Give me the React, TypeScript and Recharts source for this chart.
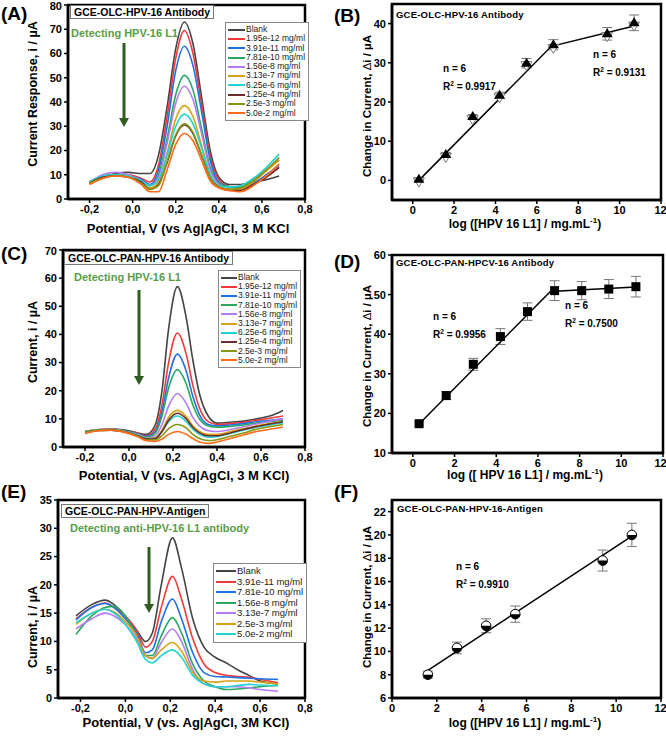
import React from 'react';
import {
  LineChart,
  Line,
  ScatterChart,
  Scatter,
  ErrorBar,
  XAxis,
  YAxis,
  ReferenceArea,
} from 'recharts';

const FONT = '"Liberation Sans", Arial, Helvetica, sans-serif';

// ---- (A) GCE-OLC-HPV-16 Antibody, DPV ----
const potentialA = [-0.2, -0.14, -0.08, -0.02, 0.04, 0.08, 0.12, 0.16, 0.2, 0.24, 0.28, 0.32, 0.36, 0.4, 0.45, 0.5, 0.56, 0.62, 0.68];
const labelsA = ['Blank', '1.95e-12 mg/ml', '3.91e-11 mg/ml', '7.81e-10 mg/ml', '1.56e-8 mg/ml', '3.13e-7 mg/ml', '6.25e-6 mg/ml', '1.25e-4 mg/ml', '2.5e-3 mg/ml', '5.0e-2 mg/ml'];
const currentsA = [
  [7, 9, 10.5, 11, 10.5, 10.5, 18, 38, 62, 73, 64, 42, 20, 9, 6, 6, 7, 8, 9.5],
  [6.5, 9, 10, 10, 8.5, 7, 14, 34, 58, 69.5, 60, 39, 18, 8, 5, 4.5, 6, 9, 13],
  [6.5, 9, 10, 9.5, 8, 6, 12, 30, 53, 63, 55, 36, 16, 7, 5, 4.5, 6.5, 10, 14],
  [7, 9.5, 10, 9.5, 7.5, 5.5, 10, 25, 43, 51, 45, 29, 13, 6.5, 5, 5, 8, 12, 16],
  [7, 10, 11, 10, 7.5, 5.5, 9, 23, 39.5, 46.5, 41, 27, 12, 6, 4, 4, 7.5, 12, 17],
  [6.5, 9, 10, 9.5, 7, 4.5, 7, 19, 33, 38.5, 34, 22, 10, 5, 4, 4, 7, 11.5, 16],
  [7, 9.5, 10, 9.5, 7.5, 5.5, 8, 18, 30, 35, 31, 21, 10, 5.5, 5, 5.5, 8.5, 13, 18.5],
  [6.5, 9, 9.5, 9, 7, 4, 6, 15, 26, 30.5, 27, 18, 8.5, 5, 3.5, 3.5, 6, 9, 13],
  [6.5, 8.5, 9.5, 9, 6.5, 4, 5.5, 15.5, 26.5, 31, 27.5, 18, 8.5, 5, 4, 4.5, 7.5, 12, 17],
  [6, 8.5, 9.5, 9, 6, 3, 3, 12, 22.5, 27, 24, 16, 7.5, 4.5, 3.5, 3, 5.5, 9.5, 14.5],
];
const yTicksA = [0, 10, 20, 30, 40, 50, 60, 70, 80];

// ---- (C) GCE-OLC-PAN-HPV-16 Antibody, DPV ----
const potentialC = [-0.2, -0.14, -0.08, -0.02, 0.04, 0.08, 0.12, 0.15, 0.18, 0.22, 0.26, 0.29, 0.32, 0.36, 0.4, 0.46, 0.52, 0.58, 0.64, 0.7];
const labelsC = labelsA;
const currentsC = [
  [5.5, 6.2, 6.4, 6, 5, 4.5, 8, 20, 42, 57, 46, 31, 19, 11, 8.5, 8.8, 9.2, 10, 11, 13],
  [5.5, 6.1, 6.3, 5.8, 4.8, 4, 6.5, 15, 30, 40.5, 33, 22, 14, 9, 8, 8.3, 8.8, 9.5, 10.2, 11],
  [5.5, 6, 6.2, 5.7, 4.6, 3.8, 5.5, 12.5, 24.5, 33, 27, 18, 11.5, 8, 7.5, 7.8, 8.3, 9, 9.5, 10],
  [5.5, 6, 6.2, 5.7, 4.5, 3.5, 5, 11, 21, 27.5, 22.5, 15, 10, 7.5, 7, 7.3, 7.8, 8.5, 9, 9.5],
  [5.5, 6, 6.2, 5.6, 4.4, 3.3, 4, 8, 14.5, 19, 15.5, 10.5, 7.5, 5.8, 5.5, 6.2, 7.2, 8.2, 9.2, 10],
  [5.5, 6, 6.2, 5.5, 4.2, 3, 3.3, 6, 10.5, 13, 10.8, 7.5, 5.5, 4.5, 4.5, 5.5, 6.5, 7.5, 8.3, 9],
  [5.5, 6, 6.1, 5.5, 4.2, 3, 3, 5.5, 9, 11, 9, 6.3, 4.5, 3.5, 3.7, 4.8, 6, 7, 7.8, 8.5],
  [5.3, 5.9, 6, 5.4, 4, 2.8, 3, 5.5, 9.5, 12, 10, 7, 5, 4, 4, 5, 6.2, 7.3, 8.2, 9],
  [5.2, 5.9, 6, 5.3, 3.8, 2.5, 2.5, 4, 6.5, 8, 6.8, 4.5, 3, 2.3, 2.6, 3.8, 5, 6.3, 7.2, 8],
  [4.8, 5.8, 6, 5.2, 3.6, 2.2, 2, 2.8, 4.5, 5.5, 4.5, 3, 1.8, 1.3, 1.8, 3, 4.3, 5.5, 6.3, 7],
];
const yTicksC = [0, 10, 20, 30, 40, 50, 60, 70];

// ---- (E) GCE-OLC-PAN-HPV-Antigen, DPV ----
const potentialE = [-0.22, -0.15, -0.09, -0.05, 0, 0.05, 0.09, 0.12, 0.16, 0.21, 0.25, 0.3, 0.35, 0.4, 0.45, 0.5, 0.55, 0.6, 0.68];
const labelsE = ['Blank', '3.91e-11 mg/ml', '7.81e-10 mg/ml', '1.56e-8 mg/ml', '3.13e-7 mg/ml', '2.5e-3 mg/ml', '5.0e-2 mg/ml'];
const currentsE = [
  [14.5, 16.5, 17.3, 16.5, 14.5, 12, 10, 11.5, 20, 28.3, 23, 14, 9, 7.2, 6.2, 5, 4, 3, 2.5],
  [14, 16, 16.8, 16, 14.5, 12, 9, 10, 16, 21.5, 17.5, 10.5, 6, 4.5, 4, 3.8, 3.7, 3.3, 2.7],
  [13.8, 16, 16.7, 16, 14, 11.5, 8, 8.5, 13.5, 17.5, 14, 8, 4.5, 3.8, 3.7, 3.6, 3.5, 3.4, 3.3],
  [11.2, 14.5, 16, 16.2, 14.5, 11, 7.5, 7.5, 11, 14.2, 11.5, 6, 3, 2, 1.5, 1.6, 1.8, 2, 2.2],
  [12.2, 14, 15, 14.5, 13, 10.5, 7.5, 7, 9.8, 12.2, 10, 5, 2.5, 2, 2, 2, 1.8, 1.5, 1.2],
  [13, 15, 15.7, 15.2, 13.5, 11, 7.5, 7, 8.5, 9.8, 8.3, 4.5, 3, 2.8, 3, 3, 3, 2.8, 2.5],
  [13.3, 15, 15.7, 15, 13, 10, 6.8, 6.2, 7.5, 8.5, 7.2, 4, 2.5, 2, 2, 2.2, 2.4, 2.3, 2.2],
];
const yTicksE = [0, 5, 10, 15, 20, 25, 30, 35];

const potentialTicks = [-0.2, 0, 0.2, 0.4, 0.6, 0.8];

// ---- (B) calibration, GCE-OLC-HPV-16 Antibody ----
const logConcB = [0.3, 1.6, 2.9, 4.2, 5.5, 6.8, 9.4, 10.7];
const deltaB = [0.3, 6.6, 16.3, 21.7, 29.9, 34.6, 37.4, 40.2];
const deltaB2 = [-0.3, 6.0, 15.6, 21.2, 29.4, 33.8, 36.8, 39.5];
const errB = [0.4, 0.5, 0.5, 0.8, 1.2, 1.3, 1.6, 2.0];
const fitXB = [0.3, 6.7, 10.7];
const fitYB = [0, 34.2, 39.4];

// ---- (D) calibration, GCE-OLC-PAN-HPCV-16 Antibody ----
const logConcD = [0.3, 1.6, 2.9, 4.2, 5.5, 6.8, 8.1, 9.4, 10.7];
const deltaD = [17.4, 24.5, 32.4, 39.4, 45.7, 51.0, 51.0, 51.4, 52.0];
const errD = [0.5, 1.0, 1.5, 2.0, 2.2, 2.5, 2.3, 2.4, 2.6];
const fitXD = [0.3, 6.6, 10.7];
const fitYD = [17.3, 50.8, 51.9];

// ---- (F) calibration, GCE-OLC-PAN-HPV-16-Antigen ----
const logConcF = [1.6, 2.9, 4.2, 5.5, 9.4, 10.7];
const deltaF = [8.0, 10.3, 12.2, 13.2, 17.8, 20.0];
const errF = [0.3, 0.5, 0.6, 0.7, 0.9, 1.0];
const fitXF = [1.6, 10.7];
const fitYF = [8.37, 19.9];

const logTicks = [0, 2, 4, 6, 8, 10, 12];

const curveColors = ['#444444', '#f23a3a', '#1f6fe6', '#27a85e', '#b47cf0', '#d6a214', '#22d3d3', '#6e2e2e', '#859613', '#ff6b1a'];
const curveColorsE = ['#444444', '#f23a3a', '#1f6fe6', '#27a85e', '#b47cf0', '#d6a214', '#22d3d3'];

const tickStyle = { fill: '#000', fontSize: 11, fontWeight: 700, fontFamily: FONT };
const axisLine = { stroke: '#000', strokeWidth: 2.5 };
const tickLine = { stroke: '#000', strokeWidth: 1.5 };

const comma = (v: number) => (v === 0 ? '0,0' : v.toFixed(1).replace('.', ','));

type DpvProps = {
  left: number;
  top: number;
  height: number;
  margin: { top: number; right: number; bottom: number; left: number };
  potentials: number[];
  currents: number[][];
  colors: string[];
  yMax: number;
  yTicks: number[];
};

function DpvChart({ left, top, height, margin, potentials, currents, colors, yMax, yTicks }: DpvProps) {
  const rows = potentials.map((v, i) => {
    const row: Record<string, number> = { v };
    currents.forEach((c, k) => (row['s' + k] = c[i]));
    return row;
  });
  return (
    <div style={{ position: 'absolute', left, top }}>
      <LineChart width={333} height={height} data={rows} margin={margin}>
        <XAxis
          type="number"
          dataKey="v"
          domain={[-0.3, 0.8]}
          ticks={potentialTicks}
          tickFormatter={comma}
          tick={tickStyle}
          axisLine={axisLine}
          tickLine={tickLine}
          tickSize={4}
          height={20}
        />
        <YAxis
          type="number"
          domain={[0, yMax]}
          ticks={yTicks}
          tick={tickStyle}
          axisLine={axisLine}
          tickLine={tickLine}
          tickSize={4}
          width={40}
        />
        <ReferenceArea x1={-0.3} x2={0.8} y1={0} y2={yMax} fill="none" stroke="#000" strokeWidth={2.5} />
        {currents.map((_, k) => (
          <Line
            key={k}
            type="monotone"
            dataKey={'s' + k}
            stroke={colors[k]}
            strokeWidth={1.6}
            dot={false}
            isAnimationActive={false}
          />
        ))}
      </LineChart>
    </div>
  );
}

type CalProps = {
  left: number;
  top: number;
  height: number;
  margin: { top: number; right: number; bottom: number; left: number };
  xDomain: [number, number];
  yDomain: [number, number];
  yTicks: number[];
  children: React.ReactNode;
};

function CalChart({ left, top, height, margin, xDomain, yDomain, yTicks, children }: CalProps) {
  return (
    <div style={{ position: 'absolute', left, top }}>
      <ScatterChart width={333} height={height} margin={margin}>
        <XAxis
          type="number"
          dataKey="x"
          domain={xDomain}
          ticks={logTicks}
          tick={tickStyle}
          axisLine={axisLine}
          tickLine={tickLine}
          tickSize={4}
          height={20}
          allowDataOverflow
        />
        <YAxis
          type="number"
          dataKey="y"
          domain={yDomain}
          ticks={yTicks}
          tick={tickStyle}
          axisLine={axisLine}
          tickLine={tickLine}
          tickSize={4}
          width={30}
          allowDataOverflow
        />
        <ReferenceArea x1={xDomain[0]} x2={xDomain[1]} y1={yDomain[0]} y2={yDomain[1]} fill="none" stroke="#000" strokeWidth={2.5} />
        {children}
      </ScatterChart>
    </div>
  );
}

const pts = (xs: number[], ys: number[], es?: number[]) => xs.map((x, i) => ({ x, y: ys[i], e: es ? es[i] : 0 }));

const noShape = () => <g />;
const upTri = (p: any) => (
  <path d={`M${p.cx},${p.cy - 5.5} L${p.cx + 5.5},${p.cy + 3.5} L${p.cx - 5.5},${p.cy + 3.5} Z`} fill="#000" />
);
const downTri = (p: any) => (
  <path d={`M${p.cx - 5.5},${p.cy - 3.5} L${p.cx + 5.5},${p.cy - 3.5} L${p.cx},${p.cy + 5.5} Z`} fill="#fff" stroke="#777" strokeWidth={1} />
);
const square = (p: any) => <rect x={p.cx - 4.5} y={p.cy - 4.5} width={9} height={9} fill="#000" />;
const halfCircle = (p: any) => (
  <g>
    <circle cx={p.cx} cy={p.cy} r={4.8} fill="#fff" stroke="#000" strokeWidth={1} />
    <path d={`M${p.cx - 4.8},${p.cy} A4.8,4.8 0 0,0 ${p.cx + 4.8},${p.cy} Z`} fill="#000" />
  </g>
);

const abs = (left: number, top: number, extra?: React.CSSProperties): React.CSSProperties => ({
  position: 'absolute',
  left,
  top,
  whiteSpace: 'nowrap',
  fontFamily: FONT,
  ...extra,
});

function PanelLetter({ x, y, t }: { x: number; y: number; t: string }) {
  return <div style={abs(x, y, { fontSize: 19, fontWeight: 700, lineHeight: '20px' })}>{t}</div>;
}

function YTitle({ cx, cy, children, size = 12.5 }: { cx: number; cy: number; children: React.ReactNode; size?: number }) {
  return (
    <div style={abs(cx, cy, { transform: 'translate(-50%, -50%) rotate(-90deg)', fontSize: size, fontWeight: 700 })}>
      {children}
    </div>
  );
}

function XTitle({ cx, cy, children, size = 13 }: { cx: number; cy: number; children: React.ReactNode; size?: number }) {
  return <div style={abs(cx, cy, { transform: 'translate(-50%, -50%)', fontSize: size, fontWeight: 700 })}>{children}</div>;
}

function BoxTitle({ x, y, t }: { x: number; y: number; t: string }) {
  return (
    <div
      style={abs(x, y, {
        fontSize: 10.5,
        fontWeight: 700,
        border: '1px solid #777',
        background: '#fff',
        padding: '0 3px',
        lineHeight: '12px',
      })}
    >
      {t}
    </div>
  );
}

function PlainTitle({ x, y, t }: { x: number; y: number; t: string }) {
  return <div style={abs(x, y, { fontSize: 9.5, fontWeight: 700, lineHeight: '11px', letterSpacing: 0.2 })}>{t}</div>;
}

function Detect({ x, y, t }: { x: number; y: number; t: string }) {
  return <div style={abs(x, y, { fontSize: 11, fontWeight: 700, color: '#5c9c46', lineHeight: '13px' })}>{t}</div>;
}

function Arrow({ x, y1, y2 }: { x: number; y1: number; y2: number }) {
  return (
    <svg style={{ position: 'absolute', left: x - 6, top: y1 }} width={12} height={y2 - y1}>
      <line x1={6} y1={0} x2={6} y2={y2 - y1 - 7} stroke="#2f5d22" strokeWidth={3} />
      <path d={`M1,${y2 - y1 - 9} L11,${y2 - y1 - 9} L6,${y2 - y1} Z`} fill="#2f5d22" />
    </svg>
  );
}

function OriginLegend({ x, y, labels, colors, row, size, lineW }: { x: number; y: number; labels: string[]; colors: string[]; row: number; size: number; lineW: number }) {
  return (
    <div style={abs(x, y, { border: '1px solid #888', background: '#fff', padding: '2px 3px 2px 2px' })}>
      {labels.map((l, i) => (
        <div key={l} style={{ display: 'flex', alignItems: 'center', height: row }}>
          <span style={{ display: 'inline-block', width: lineW, height: 2, background: colors[i], marginRight: 1 }} />
          <span style={{ fontSize: size, color: '#222', lineHeight: `${row}px` }}>{l}</span>
        </div>
      ))}
    </div>
  );
}

function Stat({ x, y, r2 }: { x: number; y: number; r2: string }) {
  return (
    <div style={abs(x, y, { fontSize: 10, fontWeight: 700, lineHeight: '15px' })}>
      <div>n = 6</div>
      <div>
        R<sup style={{ fontSize: 6.5, verticalAlign: 4 }}>2</sup> = {r2}
      </div>
    </div>
  );
}

const dAxis = (
  <>
    Change in Current, <span style={{ fontWeight: 400 }}>Δ</span>i / µA
  </>
);
const logAxis = (inner: string) => (
  <>
    log ({inner} / mg.mL<sup style={{ fontSize: 8, verticalAlign: 5 }}>-1</sup>)
  </>
);

export default function App() {
  const errBar = <ErrorBar dataKey="e" direction="y" width={5} stroke="#777" strokeWidth={1} />;
  return (
    <div style={{ position: 'absolute', left: 0, top: 0, width: 666, height: 736, background: '#fff', overflow: 'hidden' }}>
      {/* (A) */}
      <DpvChart
        left={0}
        top={0}
        height={245}
        margin={{ top: 5, right: 28, bottom: 26, left: 28 }}
        potentials={potentialA}
        currents={currentsA}
        colors={curveColors}
        yMax={80}
        yTicks={yTicksA}
      />
      {/* (C) */}
      <DpvChart
        left={0}
        top={245}
        height={245}
        margin={{ top: 5, right: 28, bottom: 23, left: 23 }}
        potentials={potentialC}
        currents={currentsC}
        colors={curveColors}
        yMax={70}
        yTicks={yTicksC}
      />
      {/* (E) */}
      <DpvChart
        left={0}
        top={485}
        height={251}
        margin={{ top: 15, right: 28, bottom: 18, left: 18 }}
        potentials={potentialE}
        currents={currentsE}
        colors={curveColorsE}
        yMax={35}
        yTicks={yTicksE}
      />

      {/* (B) */}
      <CalChart left={333} top={0} height={245} margin={{ top: 4, right: 5, bottom: 25, left: 29 }} xDomain={[-1, 12]} yDomain={[-5, 45]} yTicks={[0, 10, 20, 30, 40]}>
        <Scatter data={pts(fitXB, fitYB)} line={{ stroke: '#000', strokeWidth: 1.5 }} shape={noShape} isAnimationActive={false} />
        <Scatter data={pts(logConcB, deltaB2)} shape={downTri} isAnimationActive={false} />
        <Scatter data={pts(logConcB, deltaB, errB)} shape={upTri} isAnimationActive={false}>
          {errBar}
        </Scatter>
      </CalChart>
      {/* (D) */}
      <CalChart left={333} top={245} height={245} margin={{ top: 10, right: 3, bottom: 17, left: 29 }} xDomain={[-1, 12]} yDomain={[10, 60]} yTicks={[10, 20, 30, 40, 50, 60]}>
        <Scatter data={pts(fitXD, fitYD)} line={{ stroke: '#000', strokeWidth: 1.5 }} shape={noShape} isAnimationActive={false} />
        <Scatter data={pts(logConcD, deltaD, errD)} shape={square} isAnimationActive={false}>
          {errBar}
        </Scatter>
      </CalChart>
      {/* (F) */}
      <CalChart left={333} top={485} height={251} margin={{ top: 15, right: 5, bottom: 18, left: 29 }} xDomain={[0, 12]} yDomain={[6, 23]} yTicks={[6, 8, 10, 12, 14, 16, 18, 20, 22]}>
        <Scatter data={pts(fitXF, fitYF)} line={{ stroke: '#000', strokeWidth: 1.5 }} shape={noShape} isAnimationActive={false} />
        <Scatter data={pts(logConcF, deltaF, errF)} shape={halfCircle} isAnimationActive={false}>
          {errBar}
        </Scatter>
      </CalChart>

      {/* panel letters */}
      <PanelLetter x={1} y={4} t="(A)" />
      <PanelLetter x={334} y={6} t="(B)" />
      <PanelLetter x={1} y={244} t="(C)" />
      <PanelLetter x={334} y={252} t="(D)" />
      <PanelLetter x={1} y={482} t="(E)" />
      <PanelLetter x={334} y={482} t="(F)" />

      {/* axis titles */}
      <YTitle cx={33} cy={94}>Current Response, i / µA</YTitle>
      <XTitle cx={188} cy={228}>Potential, V (vs Ag|AgCl, 3 M KCl</XTitle>
      <YTitle cx={33} cy={342}>Current, i / µA</YTitle>
      <XTitle cx={184} cy={475}>Potential, V (vs. Ag|AgCl, 3 M KCl)</XTitle>
      <YTitle cx={33} cy={627}>Current, i / µA</YTitle>
      <XTitle cx={186} cy={722}>Potential, V (vs. Ag|AgCl, 3M KCl)</XTitle>

      <YTitle cx={367} cy={106} size={11.5}>{dAxis}</YTitle>
      <XTitle cx={525} cy={223} size={12}>{logAxis('[HPV 16 L1]')}</XTitle>
      <YTitle cx={367} cy={356} size={11.5}>{dAxis}</YTitle>
      <XTitle cx={525} cy={474} size={12}>{logAxis('[ HPV 16 L1]')}</XTitle>
      <YTitle cx={367} cy={597} size={11.5}>{dAxis}</YTitle>
      <XTitle cx={525} cy={722} size={12}>{logAxis('[HPV 16 L1]')}</XTitle>

      {/* in-plot titles */}
      <BoxTitle x={70} y={5} t="GCE-OLC-HPV-16 Antibody" />
      <BoxTitle x={64} y={251} t="GCE-OLC-PAN-HPV-16 Antibody" />
      <BoxTitle x={61} y={504} t="GCE-OLC-PAN-HPV-Antigen" />
      <PlainTitle x={396} y={9} t="GCE-OLC-HPV-16 Antibody" />
      <PlainTitle x={396} y={257} t="GCE-OLC-PAN-HPCV-16 Antibody" />
      <PlainTitle x={397} y={503} t="GCE-OLC-PAN-HPV-16-Antigen" />

      {/* detection notes */}
      <Detect x={71} y={27} t="Detecting HPV-16 L1" />
      <Arrow x={124} y1={43} y2={127} />
      <Detect x={74} y={271} t="Detecting HPV-16 L1" />
      <Arrow x={139} y1={290} y2={385} />
      <Detect x={70} y={522} t="Detecting anti-HPV-16 L1 antibody" />
      <Arrow x={149} y1={547} y2={613} />

      {/* legends */}
      <OriginLegend x={225} y={22} labels={labelsA} colors={curveColors} row={9.3} size={8.5} lineW={17} />
      <OriginLegend x={218} y={270} labels={labelsC} colors={curveColors} row={9.2} size={8.5} lineW={16} />
      <OriginLegend x={213} y={563} labels={labelsE} colors={curveColorsE} row={10.5} size={9.5} lineW={20} />

      {/* fit statistics */}
      <Stat x={443} y={61} r2="0.9917" />
      <Stat x={593} y={47} r2="0.9131" />
      <Stat x={433} y={309} r2="0.9956" />
      <Stat x={565} y={298} r2="0.7500" />
      <Stat x={456} y={559} r2="0.9910" />
    </div>
  );
}
